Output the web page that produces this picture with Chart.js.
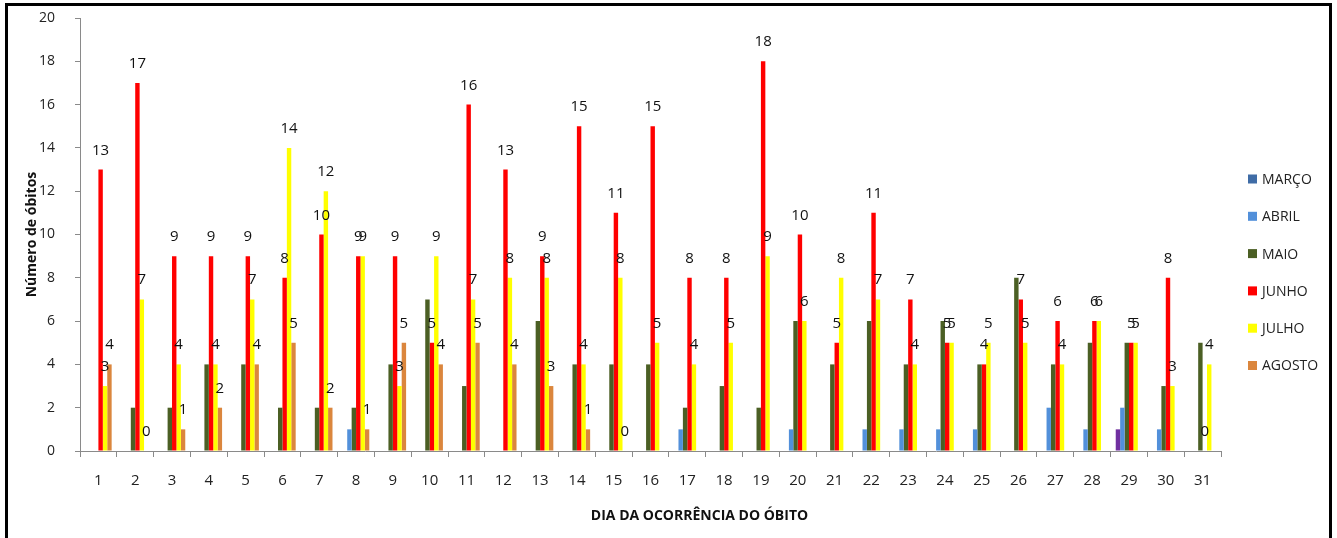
<!DOCTYPE html>
<html lang="pt">
<head>
<meta charset="utf-8">
<title>Óbitos por dia</title>
<script src="https://cdn.jsdelivr.net/npm/chart.js@4/dist/chart.umd.min.js"></script>
<style>
  html, body { margin: 0; padding: 0; background: #fff; }
  #wrap { position: relative; width: 1337px; height: 538px; overflow: hidden; }
  #moldura { position: absolute; left: 5px; top: 3px; width: 1321px; height: 560px;
             border: 3px solid #000; border-bottom: none; pointer-events: none; }
</style>
</head>
<body>
<div id="wrap">
  <canvas id="grafico"></canvas>
  <div id="moldura"></div>
</div>
<script>
// Dados
const dias = ["1","2","3","4","5","6","7","8","9","10","11","12","13","14","15","16",
              "17","18","19","20","21","22","23","24","25","26","27","28","29","30","31"];

const marco  = [0,0,0,0,0,0,0,0,0,0,0,0,0,0,0,0,0,0,0,0,0,0,0,0,0,0,0,0,1,0,0];
const abril  = [0,0,0,0,0,0,0,1,0,0,0,0,0,0,0,0,1,0,0,1,0,1,1,1,1,0,2,1,2,1,0];
const maio   = [0,2,2,4,4,2,2,2,4,7,3,0,6,4,4,4,2,3,2,6,4,6,4,6,4,8,4,5,5,3,5];
const junho  = [13,17,9,9,9,8,10,9,9,5,16,13,9,15,11,15,8,8,18,10,5,11,7,5,4,7,6,6,5,8,0];
const julho  = [3,7,4,4,7,14,12,9,3,9,7,8,8,4,8,5,4,5,9,6,8,7,4,5,5,5,4,6,5,3,4];
const agosto = [4,0,1,2,4,5,2,1,5,4,5,4,3,1,0,null,null,null,null,null,null,null,null,
                null,null,null,null,null,null,null,null];

const ticksY = [0, 2, 4, 6, 8, 10, 12, 14, 16, 18, 20];

// cores (a barra de março no dia 29 aparece em roxo)
const corMarco = dias.map((d, i) => i === 28 ? "#7030A0" : "#3F6CA6");

const fonte = "'Open Sans', 'Noto Sans', sans-serif";

// Rótulos de valor acima das barras (junho, julho, agosto)
const rotulosPlugin = {
    id: "rotulos",
    afterDatasetsDraw(chart) {
        const ctx = chart.ctx;
        ctx.save();
        ctx.font = "15px " + fonte;
        ctx.fillStyle = "#111";
        ctx.textAlign = "center";
        ctx.textBaseline = "alphabetic";
        chart.data.datasets.forEach((ds, i) => {
            if (!ds.mostrarRotulo) return;
            const meta = chart.getDatasetMeta(i);
            meta.data.forEach((bar, j) => {
                const v = ds.data[j];
                if (v === null || v === undefined) return;
                ctx.fillText(String(v), bar.x, bar.y - 15);
            });
        });
        ctx.restore();
    }
};

// Legenda vertical à direita
const legendaPlugin = {
    id: "legenda",
    afterDraw(chart) {
        const ctx = chart.ctx;
        const x = chart.chartArea.right + 27;
        let y = 179;
        ctx.save();
        ctx.font = "14px " + fonte;
        ctx.textBaseline = "middle";
        ctx.textAlign = "left";
        chart.data.datasets.forEach(ds => {
            const cor = Array.isArray(ds.backgroundColor) ? ds.backgroundColor[0] : ds.backgroundColor;
            ctx.fillStyle = cor;
            ctx.fillRect(x, y - 4.5, 9, 9);
            ctx.fillStyle = "#222";
            ctx.fillText(ds.label, x + 14, y + 1);
            y += 37.3;
        });
        ctx.restore();
    }
};

// Título do eixo X
const tituloXPlugin = {
    id: "tituloX",
    afterDraw(chart) {
        const ctx = chart.ctx;
        const a = chart.chartArea;
        ctx.save();
        ctx.font = "bold 14px " + fonte;
        ctx.fillStyle = "#111";
        ctx.textAlign = "center";
        ctx.textBaseline = "middle";
        ctx.fillText("DIA DA OCORRÊNCIA DO ÓBITO", (a.left + a.right) / 2 + 49, 516);
        ctx.restore();
    }
};

function serie(label, data, cor, mostrarRotulo) {
    return {
        label: label,
        data: data,
        backgroundColor: cor,
        borderWidth: 0,
        categoryPercentage: 0.72,
        barPercentage: 1.0,
        mostrarRotulo: mostrarRotulo
    };
}

document.addEventListener("DOMContentLoaded", () => {
    const ctx = document.getElementById("grafico").getContext("2d");
    new Chart(ctx, {
        type: "bar",
        data: {
            labels: dias,
            datasets: [
                serie("MARÇO", marco, corMarco, false),
                serie("ABRIL", abril, "#5290DA", false),
                serie("MAIO", maio, "#4B5F24", false),
                serie("JUNHO", junho, "#FF0000", true),
                serie("JULHO", julho, "#FFFF00", true),
                serie("AGOSTO", agosto, "#DB863D", true)
            ]
        },
        options: {
            responsive: true,
            maintainAspectRatio: false,
            animation: false,
            layout: { padding: { top: 18, right: 116, bottom: 0, left: 0 } },
            plugins: {
                legend: { display: false },
                tooltip: { enabled: false }
            },
            scales: {
                x: {
                    grid: { display: true, offset: true, drawOnChartArea: false, drawTicks: true,
                            tickLength: 6, color: "#8a8a8a" },
                    border: { color: "#8a8a8a" },
                    ticks: { color: "#222", font: { family: fonte, size: 15 }, padding: 15,
                             maxRotation: 0, autoSkip: false },
                    afterFit(scale) { scale.height = 87; }
                },
                y: {
                    min: 0,
                    max: 20,
                    afterBuildTicks(scale) { scale.ticks = ticksY.map(v => ({ value: v })); },
                    grid: { display: true, drawOnChartArea: false, drawTicks: true,
                            tickLength: 5, color: "#8a8a8a" },
                    border: { color: "#8a8a8a" },
                    ticks: { color: "#222", font: { family: fonte, size: 14 }, padding: 20 },
                    title: {
                        display: true,
                        text: "Número de óbitos",
                        color: "#111",
                        font: { family: fonte, size: 14, weight: "bold" },
                        padding: { top: 24, bottom: 0 }
                    },
                    afterFit(scale) {
                        scale.width = 80;
                        scale.paddingTop = 0;
                        scale.paddingBottom = 0;
                    }
                }
            }
        },
        plugins: [rotulosPlugin, legendaPlugin, tituloXPlugin]
    });
});
</script>
</body>
</html>
